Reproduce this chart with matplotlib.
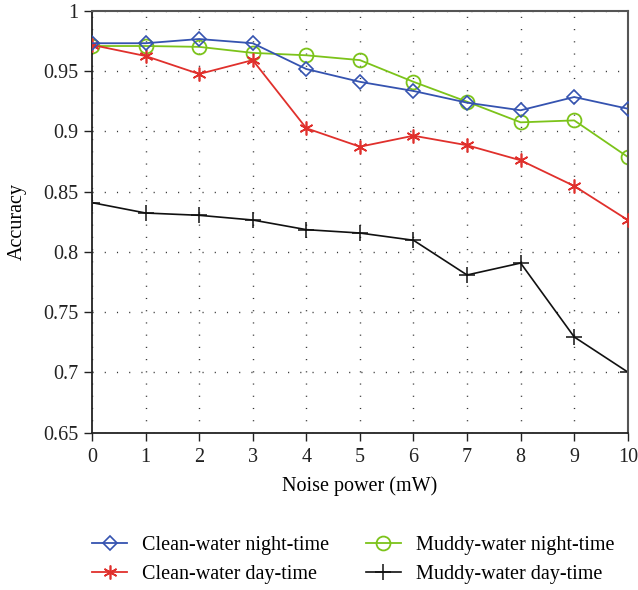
import matplotlib
matplotlib.use("Agg")
import matplotlib.pyplot as plt

noise_power = [0, 1, 2, 3, 4, 5, 6, 7, 8, 9, 10]
clean_night = [0.973, 0.973, 0.9765, 0.973, 0.9516, 0.941, 0.9334, 0.9237, 0.9174, 0.9284, 0.9187]
clean_day = [0.9716, 0.9624, 0.9475, 0.959, 0.9025, 0.8872, 0.8963, 0.8884, 0.8759, 0.8546, 0.8264]
muddy_night = [0.9707, 0.9707, 0.970, 0.965, 0.963, 0.959, 0.941, 0.9245, 0.9074, 0.909, 0.8787]
muddy_day = [0.8408, 0.8322, 0.8303, 0.8264, 0.8184, 0.8156, 0.8096, 0.7808, 0.7907, 0.7294, 0.7003]
y_ticks = [0.65, 0.7, 0.75, 0.8, 0.85, 0.9, 0.95, 1]
y_tick_labels = ["0.65", "0.7", "0.75", "0.8", "0.85", "0.9", "0.95", "1"]

plt.rcParams["font.family"] = ["Liberation Serif", "DejaVu Serif"]
FS = 14.5

fig = plt.figure(figsize=(6.38, 5.90), dpi=100)
ax = fig.add_axes([0.1442, 0.2666, 0.8398, 0.7153])

ln1, = ax.plot(noise_power, clean_night, color="#3553b0", lw=1.3, marker="D",
               ms=7, mfc="none", mec="#3553b0", mew=1.2, label="Clean-water night-time")
ln2, = ax.plot(noise_power, clean_day, color="#e0302c", lw=1.3, marker=(6, 2, 0),
               ms=10, mec="#e0302c", mew=1.2, label="Clean-water day-time")
ln3, = ax.plot(noise_power, muddy_night, color="#7cc31a", lw=1.3, marker="o",
               ms=10, mfc="none", mec="#7cc31a", mew=1.3, label="Muddy-water night-time")
ln4, = ax.plot(noise_power, muddy_day, color="#111111", lw=1.2, marker="+",
               ms=12, mec="#111111", mew=1.1, label="Muddy-water day-time")
# draw the first lines above the later ones at x=0
ln1.set_zorder(5)
ln2.set_zorder(4)

ax.set_xlim(0, 10)
ax.set_ylim(0.65, 1)
ax.set_xticks(noise_power)
ax.set_yticks(y_ticks)
ax.set_yticklabels(y_tick_labels)
ax.tick_params(direction="out", length=6, width=1, labelsize=FS, colors="#222222")
ax.tick_params(axis="x", pad=5)
ax.grid(True, color="#333333", linestyle=(0, (0.8, 8)), linewidth=1.0)

for side in ["left", "bottom"]:
    ax.spines[side].set_color("#222222")
    ax.spines[side].set_linewidth(1.3)
for side in ["top", "right"]:
    ax.spines[side].set_color("#555555")
    ax.spines[side].set_linewidth(1.5)

ax.set_xlabel("Noise power (mW)", fontsize=FS, labelpad=7)
ax.set_ylabel("Accuracy", fontsize=FS, labelpad=12)

fig.legend(handles=[ln1, ln2, ln3, ln4], loc="upper left",
           bbox_to_anchor=(0.1442, 0.092), ncol=2, frameon=False, fontsize=FS,
           borderpad=0, borderaxespad=0,
           handlelength=1.74, columnspacing=1.8, labelspacing=0.5, handletextpad=0.75)

fig.savefig("out.png", dpi=100)
